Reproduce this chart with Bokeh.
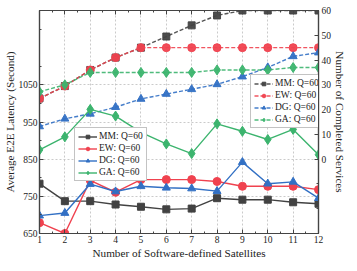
from bokeh.plotting import figure
from bokeh.models import (Range1d, LinearAxis, FixedTicker, Legend, LegendItem,
                          CustomLabelingPolicy)
from bokeh.embed import file_html
from bokeh.resources import INLINE

# ---- data ----
satellites = [1, 2, 3, 4, 5, 6, 7, 8, 9, 10, 11, 12]
series_names = ["MM: Q=60", "EW: Q=60", "DG: Q=60", "GA: Q=60"]

# Average E2E latency (left axis, solid)
mm_latency = [784, 737, 737, 728, 722, 715, 717, 745, 741, 741, 734, 730]
ew_latency = [679, 650, 793, 761, 795, 795, 795, 790, 777, 777, 777, 768]
dg_latency = [698, 705, 783, 763, 777, 773, 771, 764, 842, 784, 789, 745]
ga_latency = [875, 910, 984, 966, 922, 891, 865, 945, 925, 903, 930, 862]

# Number of completed services (right axis, dashed)
mm_services = [24.5, 29.5, 36, 41, 45, 49.5, 54, 58, 60, 60, 60, 60]
ew_services = [24.5, 29.5, 36, 41, 45, 45, 45, 45, 45, 45, 45, 45]
dg_services = [13.2, 16.3, 18.3, 21, 24.3, 26.3, 28.2, 30.2, 33.3, 37, 41.5, 43]
ga_services = [27.2, 30, 35, 35, 35, 35, 35, 36, 36, 36, 37, 37]

left_ticks = [650, 750, 850, 950, 1050]
left_minor = [700, 800, 900, 1000, 1100, 1200]
right_ticks = [0, 10, 20, 30, 40, 50, 60]
right_minor = [-30, -20, -10]

colors = ["#424242", "#f0424f", "#3270c4", "#3cb46e"]
markers = ["square", "circle", "triangle", "diamond"]
sizes = [7, 8, 8, 10]

FONT = "Liberation Serif"

p = figure(width=349, height=266, output_backend="svg", toolbar_location=None,
           x_range=Range1d(1, 12), y_range=Range1d(650, 1250),
           min_border_left=32, min_border_right=28, min_border_top=0,
           min_border_bottom=33)
p.extra_y_ranges = {"svc": Range1d(-30, 60)}

p.outline_line_color = "#444444"
p.outline_line_width = 1.2
p.background_fill_color = "white"
p.border_fill_color = "white"

# grids
p.xgrid.ticker = FixedTicker(ticks=satellites)
p.ygrid.ticker = FixedTicker(ticks=left_ticks)
for g in (p.xgrid, p.ygrid):
    g.grid_line_color = "#bdbdbd"
    g.grid_line_dash = "2 2"
    g.grid_line_width = 0.8

def style_axis(ax):
    ax.axis_line_color = "#444444"
    ax.axis_line_width = 1.2
    ax.major_tick_in = 4
    ax.major_tick_out = 0
    ax.minor_tick_in = 2
    ax.minor_tick_out = 0
    ax.major_tick_line_color = "#444444"
    ax.minor_tick_line_color = "#444444"
    ax.major_label_text_font = FONT
    ax.major_label_text_font_size = "9.5px"
    ax.major_label_text_color = "#222222"
    ax.axis_label_text_font = FONT
    ax.axis_label_text_font_style = "normal"
    ax.axis_label_text_font_size = "11.2px"
    ax.axis_label_text_color = "#222222"
    ax.major_label_standoff = 2
    ax.axis_label_standoff = 0

xa = p.xaxis[0]
style_axis(xa)
xa.ticker = FixedTicker(ticks=satellites, minor_ticks=[s + 0.5 for s in satellites[:-1]])
xa.axis_label = "Number of Software-defined Satellites"
xa.major_label_standoff = 2
xa.axis_label_standoff = 1

ya = p.yaxis[0]
style_axis(ya)
ya.ticker = FixedTicker(ticks=left_ticks, minor_ticks=left_minor)
ya.axis_label = "Average E2E Latency (Second)"

ra = LinearAxis(y_range_name="svc")
style_axis(ra)
ra.ticker = FixedTicker(ticks=right_ticks, minor_ticks=right_minor)
ra.axis_label = "Number of Completed Services"
ra.major_label_standoff = 3
p.add_layout(ra, "right")

ta = LinearAxis()
style_axis(ta)
ta.ticker = FixedTicker(ticks=satellites, minor_ticks=[s + 0.5 for s in satellites[:-1]])
ta.major_label_policy = CustomLabelingPolicy(code="return new Set()")
ta.major_label_standoff = 0
p.add_layout(ta, "above")

lat = [mm_latency, ew_latency, dg_latency, ga_latency]
svc = [mm_services, ew_services, dg_services, ga_services]

items_right = []
items_left = []
for i in range(4):
    ln = p.line(satellites, svc[i], y_range_name="svc", color=colors[i],
                line_width=1.4, line_dash="4 2", alpha=0.9)
    sc = p.scatter(satellites, svc[i], y_range_name="svc", marker=markers[i],
                   size=sizes[i], color=colors[i], alpha=0.95)
    items_right.append(LegendItem(label=series_names[i], renderers=[ln, sc]))
for i in range(4):
    ln = p.line(satellites, lat[i], color=colors[i], line_width=1.4)
    sc = p.scatter(satellites, lat[i], marker=markers[i], size=sizes[i],
                   color=colors[i])
    items_left.append(LegendItem(label=series_names[i], renderers=[ln, sc]))

def make_legend(items, loc):
    lg = Legend(items=items, location=loc)
    lg.label_text_font = FONT
    lg.label_text_font_size = "9.5px"
    lg.label_text_color = "#222222"
    lg.label_height = 9
    lg.glyph_height = 9
    lg.glyph_width = 19
    lg.label_standoff = 2
    lg.spacing = 2
    lg.padding = 3
    lg.margin = 0
    lg.border_line_color = "#888888"
    lg.border_line_width = 1
    lg.background_fill_alpha = 1
    return lg

p.add_layout(make_legend(items_right, (211, 105)))
p.add_layout(make_legend(items_left, (35, 52)))

open("out.html", "w").write(file_html(p, INLINE))
